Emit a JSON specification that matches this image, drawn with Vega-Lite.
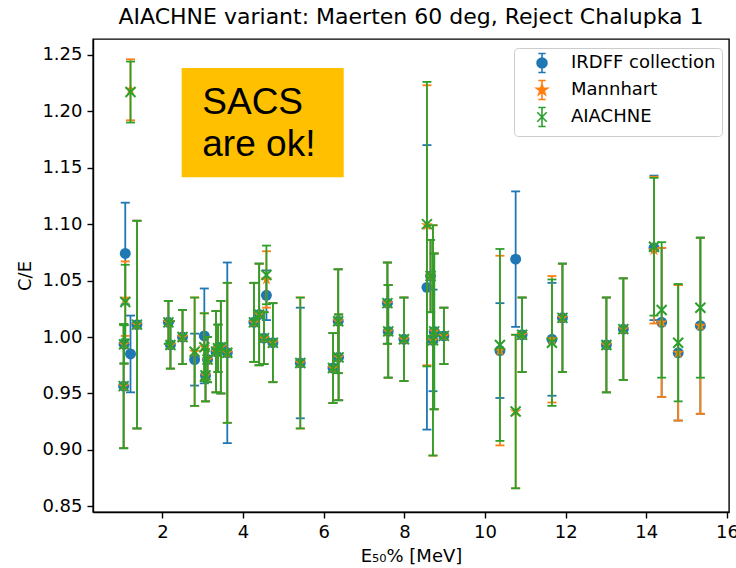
{
 "$schema": "https://vega.github.io/schema/vega-lite/v6.json",
 "width": 636,
 "height": 473,
 "autosize": {"type": "none"},
 "padding": {"left": 93, "top": 39, "right": 7, "bottom": 56},
 "config": {
  "view": {"stroke": "black", "strokeWidth": 1.4},
  "font": "DejaVu Sans",
  "axis": {"labelFont": "DejaVu Sans", "labelFontSize": 18, "labelColor": "black", "tickColor": "black", "tickWidth": 1.4, "tickSize": 6, "labelPadding": 5, "domainColor": "black", "domainWidth": 1.4, "gridColor": "#b0b0b0", "gridWidth": 1.4, "titleFont": "DejaVu Sans", "titleFontSize": 18, "titleFontWeight": "normal", "titleColor": "black"},
  "legend": {"labelFont": "DejaVu Sans", "labelFontSize": 18, "labelColor": "black", "symbolSize": 110, "fillColor": "rgba(255,255,255,0.8)", "strokeColor": "#cccccc", "cornerRadius": 4, "padding": 6, "rowPadding": 1, "symbolOffset": 13, "labelOffset": 20, "symbolStrokeWidth": 1.6, "symbolOpacity": 1}
 },
 "title": {"text": "AIACHNE variant: Maerten 60 deg, Reject Chalupka 1", "font": "DejaVu Sans", "fontSize": 22, "fontWeight": "normal", "color": "black", "anchor": "middle", "offset": 10},
 "datasets": {
  "irdff": [
   {"s":"IRDFF collection","E":1.05,"v":0.9935,"lo":0.9765,"hi":1.0105},
   {"s":"IRDFF collection","E":1.04,"v":0.9565,"lo":0.9015,"hi":1.0115},
   {"s":"IRDFF collection","E":1.08,"v":1.074,"lo":1.029,"hi":1.119},
   {"s":"IRDFF collection","E":1.21,"v":0.985,"lo":0.951,"hi":1.019},
   {"s":"IRDFF collection","E":1.37,"v":1.011,"lo":0.919,"hi":1.103},
   {"s":"IRDFF collection","E":2.15,"v":1.013,"lo":0.994,"hi":1.032},
   {"s":"IRDFF collection","E":2.20,"v":0.993,"lo":0.972,"hi":1.014},
   {"s":"IRDFF collection","E":2.50,"v":1.000,"lo":0.976,"hi":1.024},
   {"s":"IRDFF collection","E":2.80,"v":0.980,"lo":0.957,"hi":1.003},
   {"s":"IRDFF collection","E":3.04,"v":1.001,"lo":0.959,"hi":1.043},
   {"s":"IRDFF collection","E":3.07,"v":0.966,"lo":0.943,"hi":0.989},
   {"s":"IRDFF collection","E":3.12,"v":0.980,"lo":0.960,"hi":1.000},
   {"s":"IRDFF collection","E":3.33,"v":0.987,"lo":0.951,"hi":1.023},
   {"s":"IRDFF collection","E":3.38,"v":0.990,"lo":0.969,"hi":1.011},
   {"s":"IRDFF collection","E":3.45,"v":0.991,"lo":0.950,"hi":1.032},
   {"s":"IRDFF collection","E":3.61,"v":0.986,"lo":0.906,"hi":1.066},
   {"s":"IRDFF collection","E":4.27,"v":1.013,"lo":0.978,"hi":1.048},
   {"s":"IRDFF collection","E":4.40,"v":1.020,"lo":0.975,"hi":1.065},
   {"s":"IRDFF collection","E":4.52,"v":0.999,"lo":0.976,"hi":1.022},
   {"s":"IRDFF collection","E":4.58,"v":1.037,"lo":1.015,"hi":1.059},
   {"s":"IRDFF collection","E":4.74,"v":0.995,"lo":0.960,"hi":1.030},
   {"s":"IRDFF collection","E":5.42,"v":0.977,"lo":0.928,"hi":1.026},
   {"s":"IRDFF collection","E":6.23,"v":0.9725,"lo":0.9415,"hi":1.0035},
   {"s":"IRDFF collection","E":6.36,"v":1.014,"lo":0.968,"hi":1.060},
   {"s":"IRDFF collection","E":6.37,"v":0.982,"lo":0.944,"hi":1.020},
   {"s":"IRDFF collection","E":7.58,"v":1.030,"lo":0.994,"hi":1.066},
   {"s":"IRDFF collection","E":7.60,"v":1.005,"lo":0.964,"hi":1.046},
   {"s":"IRDFF collection","E":7.99,"v":0.998,"lo":0.961,"hi":1.035},
   {"s":"IRDFF collection","E":8.56,"v":1.044,"lo":0.918,"hi":1.170},
   {"s":"IRDFF collection","E":8.65,"v":1.054,"lo":1.022,"hi":1.086},
   {"s":"IRDFF collection","E":8.71,"v":0.997,"lo":0.952,"hi":1.042},
   {"s":"IRDFF collection","E":8.74,"v":1.005,"lo":0.936,"hi":1.074},
   {"s":"IRDFF collection","E":8.98,"v":1.001,"lo":0.976,"hi":1.026},
   {"s":"IRDFF collection","E":10.37,"v":0.988,"lo":0.946,"hi":1.030},
   {"s":"IRDFF collection","E":10.76,"v":1.069,"lo":1.009,"hi":1.129},
   {"s":"IRDFF collection","E":10.92,"v":1.002,"lo":0.969,"hi":1.035},
   {"s":"IRDFF collection","E":11.66,"v":0.998,"lo":0.948,"hi":1.048},
   {"s":"IRDFF collection","E":11.92,"v":1.017,"lo":0.969,"hi":1.065},
   {"s":"IRDFF collection","E":13.01,"v":0.993,"lo":0.951,"hi":1.035},
   {"s":"IRDFF collection","E":13.43,"v":1.007,"lo":0.962,"hi":1.052},
   {"s":"IRDFF collection","E":14.19,"v":1.079,"lo":1.015,"hi":1.143},
   {"s":"IRDFF collection","E":14.38,"v":1.013,"lo":0.947,"hi":1.079},
   {"s":"IRDFF collection","E":14.79,"v":0.986,"lo":0.926,"hi":1.046},
   {"s":"IRDFF collection","E":15.34,"v":1.010,"lo":0.932,"hi":1.088}
  ],
  "mannhart": [
   {"s":"Mannhart","E":1.05,"v":0.9935,"lo":0.9765,"hi":1.0105},
   {"s":"Mannhart","E":1.04,"v":0.9565,"lo":0.9015,"hi":1.0115},
   {"s":"Mannhart","E":1.08,"v":1.034,"lo":1.001,"hi":1.067},
   {"s":"Mannhart","E":1.21,"v":1.219,"lo":1.192,"hi":1.246},
   {"s":"Mannhart","E":1.37,"v":1.011,"lo":0.919,"hi":1.103},
   {"s":"Mannhart","E":2.15,"v":1.013,"lo":0.994,"hi":1.032},
   {"s":"Mannhart","E":2.20,"v":0.993,"lo":0.972,"hi":1.014},
   {"s":"Mannhart","E":2.50,"v":1.000,"lo":0.976,"hi":1.024},
   {"s":"Mannhart","E":2.80,"v":0.987,"lo":0.939,"hi":1.035},
   {"s":"Mannhart","E":3.04,"v":0.991,"lo":0.961,"hi":1.021},
   {"s":"Mannhart","E":3.07,"v":0.966,"lo":0.943,"hi":0.989},
   {"s":"Mannhart","E":3.12,"v":0.980,"lo":0.960,"hi":1.000},
   {"s":"Mannhart","E":3.33,"v":0.987,"lo":0.951,"hi":1.023},
   {"s":"Mannhart","E":3.38,"v":0.990,"lo":0.969,"hi":1.011},
   {"s":"Mannhart","E":3.45,"v":0.991,"lo":0.950,"hi":1.032},
   {"s":"Mannhart","E":3.61,"v":0.986,"lo":0.924,"hi":1.048},
   {"s":"Mannhart","E":4.27,"v":1.013,"lo":0.978,"hi":1.048},
   {"s":"Mannhart","E":4.40,"v":1.020,"lo":0.975,"hi":1.065},
   {"s":"Mannhart","E":4.52,"v":0.999,"lo":0.976,"hi":1.022},
   {"s":"Mannhart","E":4.58,"v":1.051,"lo":1.026,"hi":1.076},
   {"s":"Mannhart","E":4.74,"v":0.995,"lo":0.960,"hi":1.030},
   {"s":"Mannhart","E":5.42,"v":0.977,"lo":0.919,"hi":1.035},
   {"s":"Mannhart","E":6.23,"v":0.9725,"lo":0.9415,"hi":1.0035},
   {"s":"Mannhart","E":6.36,"v":1.014,"lo":0.968,"hi":1.060},
   {"s":"Mannhart","E":6.37,"v":0.982,"lo":0.944,"hi":1.020},
   {"s":"Mannhart","E":7.58,"v":1.030,"lo":0.994,"hi":1.066},
   {"s":"Mannhart","E":7.60,"v":1.005,"lo":0.964,"hi":1.046},
   {"s":"Mannhart","E":7.99,"v":0.998,"lo":0.961,"hi":1.035},
   {"s":"Mannhart","E":8.56,"v":1.099,"lo":0.975,"hi":1.223},
   {"s":"Mannhart","E":8.65,"v":1.054,"lo":1.022,"hi":1.086},
   {"s":"Mannhart","E":8.71,"v":0.997,"lo":0.895,"hi":1.099},
   {"s":"Mannhart","E":8.74,"v":1.005,"lo":0.936,"hi":1.074},
   {"s":"Mannhart","E":8.98,"v":1.001,"lo":0.976,"hi":1.026},
   {"s":"Mannhart","E":10.37,"v":0.988,"lo":0.904,"hi":1.072},
   {"s":"Mannhart","E":10.76,"v":0.934,"lo":0.866,"hi":1.002},
   {"s":"Mannhart","E":10.92,"v":1.002,"lo":0.969,"hi":1.035},
   {"s":"Mannhart","E":11.66,"v":0.998,"lo":0.942,"hi":1.054},
   {"s":"Mannhart","E":11.92,"v":1.017,"lo":0.969,"hi":1.065},
   {"s":"Mannhart","E":13.01,"v":0.993,"lo":0.951,"hi":1.035},
   {"s":"Mannhart","E":13.43,"v":1.007,"lo":0.962,"hi":1.052},
   {"s":"Mannhart","E":14.19,"v":1.077,"lo":1.012,"hi":1.142},
   {"s":"Mannhart","E":14.38,"v":1.013,"lo":0.947,"hi":1.079},
   {"s":"Mannhart","E":14.79,"v":0.986,"lo":0.926,"hi":1.046},
   {"s":"Mannhart","E":15.34,"v":1.010,"lo":0.932,"hi":1.088}
  ],
  "aiachne": [
   {"s":"AIACHNE","E":1.05,"v":0.9935,"lo":0.9765,"hi":1.0105},
   {"s":"AIACHNE","E":1.04,"v":0.9565,"lo":0.9015,"hi":1.0115},
   {"s":"AIACHNE","E":1.08,"v":1.031,"lo":0.998,"hi":1.064},
   {"s":"AIACHNE","E":1.21,"v":1.217,"lo":1.190,"hi":1.244},
   {"s":"AIACHNE","E":1.37,"v":1.011,"lo":0.919,"hi":1.103},
   {"s":"AIACHNE","E":2.15,"v":1.013,"lo":0.994,"hi":1.032},
   {"s":"AIACHNE","E":2.20,"v":0.993,"lo":0.972,"hi":1.014},
   {"s":"AIACHNE","E":2.50,"v":1.000,"lo":0.976,"hi":1.024},
   {"s":"AIACHNE","E":2.80,"v":0.987,"lo":0.939,"hi":1.035},
   {"s":"AIACHNE","E":3.04,"v":0.991,"lo":0.961,"hi":1.021},
   {"s":"AIACHNE","E":3.07,"v":0.966,"lo":0.943,"hi":0.989},
   {"s":"AIACHNE","E":3.12,"v":0.980,"lo":0.960,"hi":1.000},
   {"s":"AIACHNE","E":3.33,"v":0.987,"lo":0.951,"hi":1.023},
   {"s":"AIACHNE","E":3.38,"v":0.990,"lo":0.969,"hi":1.011},
   {"s":"AIACHNE","E":3.45,"v":0.991,"lo":0.950,"hi":1.032},
   {"s":"AIACHNE","E":3.61,"v":0.986,"lo":0.924,"hi":1.048},
   {"s":"AIACHNE","E":4.27,"v":1.013,"lo":0.978,"hi":1.048},
   {"s":"AIACHNE","E":4.40,"v":1.020,"lo":0.975,"hi":1.065},
   {"s":"AIACHNE","E":4.52,"v":0.999,"lo":0.976,"hi":1.022},
   {"s":"AIACHNE","E":4.58,"v":1.055,"lo":1.029,"hi":1.081},
   {"s":"AIACHNE","E":4.74,"v":0.995,"lo":0.960,"hi":1.030},
   {"s":"AIACHNE","E":5.42,"v":0.977,"lo":0.919,"hi":1.035},
   {"s":"AIACHNE","E":6.23,"v":0.9725,"lo":0.9415,"hi":1.0035},
   {"s":"AIACHNE","E":6.36,"v":1.014,"lo":0.968,"hi":1.060},
   {"s":"AIACHNE","E":6.37,"v":0.982,"lo":0.944,"hi":1.020},
   {"s":"AIACHNE","E":7.58,"v":1.030,"lo":0.994,"hi":1.066},
   {"s":"AIACHNE","E":7.60,"v":1.005,"lo":0.964,"hi":1.046},
   {"s":"AIACHNE","E":7.99,"v":0.998,"lo":0.961,"hi":1.035},
   {"s":"AIACHNE","E":8.56,"v":1.100,"lo":0.974,"hi":1.226},
   {"s":"AIACHNE","E":8.65,"v":1.054,"lo":1.022,"hi":1.086},
   {"s":"AIACHNE","E":8.71,"v":0.997,"lo":0.895,"hi":1.099},
   {"s":"AIACHNE","E":8.74,"v":1.005,"lo":0.936,"hi":1.074},
   {"s":"AIACHNE","E":8.98,"v":1.001,"lo":0.976,"hi":1.026},
   {"s":"AIACHNE","E":10.37,"v":0.993,"lo":0.908,"hi":1.078},
   {"s":"AIACHNE","E":10.76,"v":0.934,"lo":0.866,"hi":1.002},
   {"s":"AIACHNE","E":10.92,"v":1.002,"lo":0.969,"hi":1.035},
   {"s":"AIACHNE","E":11.66,"v":0.995,"lo":0.939,"hi":1.051},
   {"s":"AIACHNE","E":11.92,"v":1.017,"lo":0.969,"hi":1.065},
   {"s":"AIACHNE","E":13.01,"v":0.993,"lo":0.951,"hi":1.035},
   {"s":"AIACHNE","E":13.43,"v":1.007,"lo":0.962,"hi":1.052},
   {"s":"AIACHNE","E":14.19,"v":1.080,"lo":1.019,"hi":1.141},
   {"s":"AIACHNE","E":14.38,"v":1.024,"lo":0.964,"hi":1.084},
   {"s":"AIACHNE","E":14.79,"v":0.995,"lo":0.943,"hi":1.047},
   {"s":"AIACHNE","E":15.34,"v":1.026,"lo":0.964,"hi":1.088}
  ],
  "series": [
   {"s":"IRDFF collection"},
   {"s":"Mannhart"},
   {"s":"AIACHNE"}
  ]
 },
 "layer": [
  {
   "data": {"values": [{}]},
   "mark": {"type": "rect", "color": "#ffc000"},
   "encoding": {
    "x": {"datum": 2.478, "type": "quantitative", "scale": {"domain": [0.28, 16.05], "nice": false, "zero": false}, "axis": {"values": [2,4,6,8,10,12,14,16], "format": "d", "title": "E₅₀% [MeV]", "titlePadding": 6}},
    "x2": {"datum": 6.497},
    "y": {"datum": 1.2384, "type": "quantitative", "scale": {"domain": [0.845, 1.264], "nice": false, "zero": false}, "axis": {"values": [0.85,0.9,0.95,1.0,1.05,1.1,1.15,1.2,1.25], "format": ".2f", "title": "C/E", "titlePadding": 7}},
    "y2": {"datum": 1.1416}
   }
  },
  {
   "data": {"values": [{}]},
   "mark": {"type": "text", "text": "SACS", "font": "Liberation Sans", "fontSize": 37, "color": "black", "align": "left", "baseline": "alphabetic"},
   "encoding": {"x": {"datum": 2.99, "type": "quantitative"}, "y": {"datum": 1.198, "type": "quantitative"}}
  },
  {
   "data": {"values": [{}]},
   "mark": {"type": "text", "text": "are ok!", "font": "Liberation Sans", "fontSize": 37, "color": "black", "align": "left", "baseline": "alphabetic"},
   "encoding": {"x": {"datum": 2.99, "type": "quantitative"}, "y": {"datum": 1.160, "type": "quantitative"}}
  },
  {
   "data": {"name": "irdff"},
   "layer": [
    {"mark": {"type": "rule", "color": "#1f77b4", "strokeWidth": 1.8}, "encoding": {"x": {"field": "E", "type": "quantitative"}, "y": {"field": "lo", "type": "quantitative"}, "y2": {"field": "hi"}}},
    {"mark": {"type": "tick", "orient": "horizontal", "color": "#1f77b4", "size": 9, "thickness": 1.8, "opacity": 1}, "encoding": {"x": {"field": "E", "type": "quantitative"}, "y": {"field": "lo", "type": "quantitative"}}},
    {"mark": {"type": "tick", "orient": "horizontal", "color": "#1f77b4", "size": 9, "thickness": 1.8, "opacity": 1}, "encoding": {"x": {"field": "E", "type": "quantitative"}, "y": {"field": "hi", "type": "quantitative"}}},
    {"mark": {"type": "point", "shape": "circle", "filled": true, "color": "#1f77b4", "size": 120, "opacity": 1, "strokeWidth": 0}, "encoding": {"x": {"field": "E", "type": "quantitative"}, "y": {"field": "v", "type": "quantitative"}}}
   ]
  },
  {
   "data": {"name": "mannhart"},
   "layer": [
    {"mark": {"type": "rule", "color": "#ff7f0e", "strokeWidth": 1.8}, "encoding": {"x": {"field": "E", "type": "quantitative"}, "y": {"field": "lo", "type": "quantitative"}, "y2": {"field": "hi"}}},
    {"mark": {"type": "tick", "orient": "horizontal", "color": "#ff7f0e", "size": 9, "thickness": 1.8, "opacity": 1}, "encoding": {"x": {"field": "E", "type": "quantitative"}, "y": {"field": "lo", "type": "quantitative"}}},
    {"mark": {"type": "tick", "orient": "horizontal", "color": "#ff7f0e", "size": 9, "thickness": 1.8, "opacity": 1}, "encoding": {"x": {"field": "E", "type": "quantitative"}, "y": {"field": "hi", "type": "quantitative"}}},
    {"mark": {"type": "point", "shape": "M0,-1L0.223,-0.307L0.951,-0.309L0.361,0.117L0.588,0.809L0,0.38L-0.588,0.809L-0.361,0.117L-0.951,-0.309L-0.223,-0.307Z", "filled": true, "color": "#ff7f0e", "size": 160, "opacity": 1, "strokeWidth": 0}, "encoding": {"x": {"field": "E", "type": "quantitative"}, "y": {"field": "v", "type": "quantitative"}}}
   ]
  },
  {
   "data": {"name": "aiachne"},
   "layer": [
    {"mark": {"type": "rule", "color": "#2ca02c", "strokeWidth": 1.8}, "encoding": {"x": {"field": "E", "type": "quantitative"}, "y": {"field": "lo", "type": "quantitative"}, "y2": {"field": "hi"}}},
    {"mark": {"type": "tick", "orient": "horizontal", "color": "#2ca02c", "size": 9, "thickness": 1.8, "opacity": 1}, "encoding": {"x": {"field": "E", "type": "quantitative"}, "y": {"field": "lo", "type": "quantitative"}}},
    {"mark": {"type": "tick", "orient": "horizontal", "color": "#2ca02c", "size": 9, "thickness": 1.8, "opacity": 1}, "encoding": {"x": {"field": "E", "type": "quantitative"}, "y": {"field": "hi", "type": "quantitative"}}},
    {"mark": {"type": "point", "shape": "M-1,-1L1,1M-1,1L1,-1", "filled": false, "color": "#2ca02c", "size": 100, "opacity": 1, "strokeWidth": 2}, "encoding": {"x": {"field": "E", "type": "quantitative"}, "y": {"field": "v", "type": "quantitative"}}}
   ]
  },
  {
   "data": {"name": "series"},
   "mark": {"type": "point", "filled": true, "opacity": 0},
   "encoding": {
    "fill": {"field": "s", "type": "nominal", "scale": {"domain": ["IRDFF collection", "Mannhart", "AIACHNE"], "range": ["#1f77b4", "#ff7f0e", "#2ca02c"]}, "legend": {"title": null, "orient": "none", "legendX": 421, "legendY": 9, "symbolOpacity": 1}},
    "stroke": {"field": "s", "type": "nominal", "scale": {"domain": ["IRDFF collection", "Mannhart", "AIACHNE"], "range": ["#1f77b4", "#ff7f0e", "#2ca02c"]}, "legend": {"title": null, "orient": "none", "legendX": 421, "legendY": 9, "symbolOpacity": 1}},
    "shape": {"field": "s", "type": "nominal", "scale": {"domain": ["IRDFF collection", "Mannhart", "AIACHNE"], "range": ["M0,-1.8L0,1.8M-0.7,-1.8L0.7,-1.8M-0.7,1.8L0.7,1.8M0.95,0A0.95,0.95 0 1,1 -0.95,0A0.95,0.95 0 1,1 0.95,0Z", "M0,-1.8L0,1.8M-0.7,-1.8L0.7,-1.8M-0.7,1.8L0.7,1.8M0,-1.1L0.245,-0.338L1.046,-0.34L0.397,0.129L0.647,0.89L0,0.418L-0.647,0.89L-0.397,0.129L-1.046,-0.34L-0.245,-0.338Z", "M0,-1.8L0,1.8M-0.7,-1.8L0.7,-1.8M-0.7,1.8L0.7,1.8M-0.9,-0.9L0.9,0.9M-0.9,0.9L0.9,-0.9"]}, "legend": {"title": null, "orient": "none", "legendX": 421, "legendY": 9, "symbolOpacity": 1}}
   }
  }
 ]
}
